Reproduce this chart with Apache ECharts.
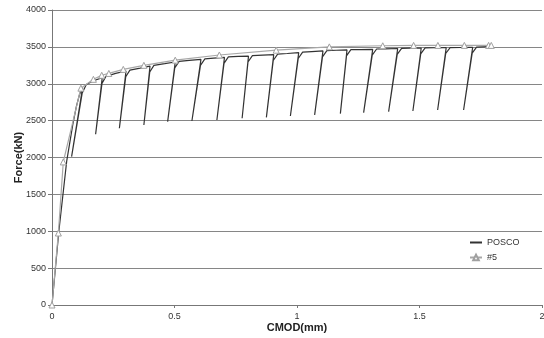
<!DOCTYPE html>
<html>
<head>
<meta charset="utf-8">
<script src="https://cdn.jsdelivr.net/npm/echarts@6/dist/echarts.min.js"></script>
<style>
  html, body { margin: 0; padding: 0; background: #fff; }
  #chart { width: 544px; height: 338px; }
</style>
</head>
<body>
<div id="chart"></div>
<script>
// CMOD (mm) vs. force (kN), POSCO loading with unload/reload cycles
const poscoCurve = [
  [0, 0], [0.028, 1000], [0.06, 1950], [0.085, 2450], [0.1, 2700], [0.112, 2850], [0.125, 2950],
  [0.080, 2011], [0.123, 2870], [0.14, 2990], [0.17, 3040], [0.205, 3083],
  [0.178, 2315], [0.204, 3005], [0.22, 3100], [0.26, 3140], [0.302, 3173],
  [0.275, 2396], [0.301, 3095], [0.318, 3185], [0.36, 3212], [0.400, 3240],
  [0.375, 2441], [0.399, 3160], [0.416, 3250], [0.46, 3272], [0.503, 3295],
  [0.472, 2486], [0.501, 3215], [0.519, 3303], [0.56, 3316], [0.608, 3331],
  [0.571, 2495], [0.606, 3250], [0.624, 3338], [0.66, 3347], [0.704, 3358],
  [0.673, 2509], [0.702, 3277], [0.72, 3364], [0.76, 3370], [0.802, 3375],
  [0.776, 2532], [0.800, 3295], [0.818, 3381], [0.86, 3388], [0.905, 3395],
  [0.875, 2545], [0.903, 3315], [0.921, 3401], [0.96, 3410], [1.007, 3422],
  [0.973, 2563], [1.005, 3342], [1.023, 3428], [1.06, 3436], [1.106, 3445],
  [1.072, 2577], [1.104, 3365], [1.122, 3450], [1.16, 3454], [1.204, 3458],
  [1.177, 2595], [1.202, 3378], [1.22, 3462], [1.26, 3464], [1.309, 3467],
  [1.272, 2608], [1.307, 3387], [1.325, 3471], [1.36, 3474], [1.411, 3478],
  [1.374, 2621], [1.409, 3398], [1.427, 3481], [1.46, 3483], [1.507, 3485],
  [1.473, 2631], [1.505, 3405], [1.523, 3487], [1.56, 3488], [1.609, 3490],
  [1.574, 2644], [1.607, 3410], [1.625, 3491], [1.67, 3492], [1.717, 3494],
  [1.680, 2644], [1.715, 3414], [1.733, 3496], [1.79, 3505]
];

// #5 specimen, monotonic curve
const specimen5 = [
  [0, 0], [0.026, 976], [0.046, 1940], [0.118, 2940], [0.169, 3060], [0.203, 3115],
  [0.232, 3140], [0.291, 3195], [0.375, 3250], [0.503, 3320], [0.683, 3390],
  [0.915, 3455], [1.132, 3500], [1.35, 3515], [1.476, 3520], [1.575, 3520],
  [1.683, 3520], [1.782, 3520], [1.793, 3520]
];

const seriesNames = ['POSCO', '#5'];
const xTicks = { min: 0, max: 2, interval: 0.5 };
const yTicks = { min: 0, max: 4000, interval: 500 };

const font = 'Liberation Sans, Arial, sans-serif';
const chart = echarts.init(document.getElementById('chart'), null, { renderer: 'canvas' });

chart.setOption({
  animation: false,
  backgroundColor: '#ffffff',
  grid: { left: 52, right: 2, top: 10, bottom: 33, containLabel: false, outerBoundsMode: 'none' },
  legend: {
    orient: 'vertical',
    left: 469,
    top: 238,
    padding: 0,
    itemWidth: 12,
    itemHeight: 7,
    itemGap: 6,
    textStyle: { fontFamily: font, fontSize: 9, color: '#333' },
    data: [
      { name: seriesNames[0], itemStyle: { opacity: 0 } },
      { name: seriesNames[1] }
    ]
  },
  xAxis: {
    type: 'value',
    min: xTicks.min, max: xTicks.max, interval: xTicks.interval,
    name: 'CMOD(mm)',
    nameLocation: 'middle',
    nameGap: 17,
    nameMoveOverlap: false,
    nameTextStyle: { fontFamily: font, fontSize: 11, fontWeight: 'bold', color: '#222' },
    axisLine: { lineStyle: { color: '#777', width: 1 } },
    axisTick: { show: true, length: 3, lineStyle: { color: '#777' } },
    axisLabel: { fontFamily: font, fontSize: 9, color: '#333', margin: 7, formatter: v => String(v) },
    splitLine: { show: false }
  },
  yAxis: {
    type: 'value',
    min: yTicks.min, max: yTicks.max, interval: yTicks.interval,
    name: 'Force(kN)',
    nameLocation: 'middle',
    nameGap: 28,
    nameMoveOverlap: false,
    nameTextStyle: { fontFamily: font, fontSize: 11, fontWeight: 'bold', color: '#222' },
    axisLine: { show: true, lineStyle: { color: '#777', width: 1 } },
    axisTick: { show: true, length: 4, lineStyle: { color: '#777' } },
    axisLabel: { fontFamily: font, fontSize: 9, color: '#333', margin: 6, formatter: v => String(v) },
    splitLine: { show: true, lineStyle: { color: '#868686', width: 1 } }
  },
  series: [
    {
      name: seriesNames[0],
      type: 'line',
      data: poscoCurve,
      symbol: 'none',
      lineStyle: { color: '#333333', width: 1.2 },
      itemStyle: { color: '#333333' },
      z: 2
    },
    {
      name: seriesNames[1],
      type: 'line',
      data: specimen5,
      symbol: 'triangle',
      symbolSize: 6,
      showAllSymbol: true,
      lineStyle: { color: '#a8a8a8', width: 1.2 },
      itemStyle: { color: '#ffffff', borderColor: '#a0a0a0', borderWidth: 1 },
      z: 3
    }
  ]
});
</script>
</body>
</html>
